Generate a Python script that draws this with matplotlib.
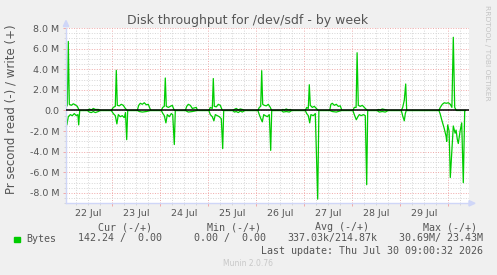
import matplotlib
matplotlib.use("Agg")
import matplotlib.pyplot as plt
from matplotlib.ticker import FixedLocator, FuncFormatter
from matplotlib.patches import Polygon, Rectangle

# figure size in pixels (dpi 100)
W, H = 497, 275

# time axis in hours since 22 Jul 00:00, values in MB/s
# write (+) samples
write_hours = [0.85, 1.5, 2.0, 2.5, 3.5, 4.5, 5.5, 6.5, 7.5,
               11.5, 12.5, 13.5, 14.5, 15.5, 17.0, 18.0,
               23.5, 24.5, 25.5, 26.0, 26.5, 27.5, 28.5, 29.5, 30.5, 31.5,
               36.5, 37.2, 38.0, 39.0, 40.0, 41.0, 42.0, 42.8, 43.3,
               48.5, 49.2, 50.0, 50.5, 51.0, 52.0, 53.0, 54.0, 54.8, 55.3,
               60.5, 61.2, 62.0, 63.0, 64.0, 65.0, 66.0, 66.6,
               72.3, 73.0, 74.0, 74.5, 75.0, 76.0, 77.0, 78.0, 78.8, 79.3,
               84.3, 85.0, 86.0, 87.0, 88.0, 89.0, 90.3,
               96.8, 97.5, 98.2, 98.7, 99.2, 100.0, 101.0, 102.0, 103.0, 103.7,
               108.5, 109.2, 110.0, 111.0, 112.0, 113.0, 113.8,
               120.5, 121.2, 122.0, 122.5, 123.0, 124.0, 125.0, 126.0, 127.0,
               132.7, 133.3, 134.0, 135.0, 136.0, 137.0, 138.0, 138.8,
               144.3, 145.0, 145.9, 146.4, 147.0, 148.0, 149.0, 150.0, 151.0, 151.7,
               156.3, 157.0, 158.0, 159.0, 160.0, 161.0, 162.0,
               168.5, 169.2, 170.0, 170.7, 171.2,
               187.3, 188.0, 189.0, 190.0, 191.0, 192.0, 193.0, 193.8, 194.5, 195.2, 196.0, 200.5]
write_mb = [0.3, 0.5, 6.7, 0.6, 0.5, 0.65, 0.55, 0.4, 0.0,
            0.0, 0.15, 0.05, 0.2, 0.1, 0.1, 0.0,
            0.0, 0.3, 0.4, 3.9, 0.5, 0.45, 0.6, 0.5, 0.2, 0.0,
            0.0, 0.5, 0.7, 0.6, 0.75, 0.55, 0.6, 0.2, 0.0,
            0.0, 0.3, 0.4, 3.15, 0.4, 0.3, 0.4, 0.5, 0.1, 0.0,
            0.0, 0.4, 0.6, 0.5, 0.2, 0.25, 0.3, 0.0,
            0.0, 0.3, 0.2, 3.1, 0.4, 0.35, 0.6, 0.5, 0.1, 0.0,
            0.0, 0.1, 0.2, 0.05, 0.15, 0.1, 0.0,
            0.0, 0.3, 0.4, 3.86, 0.6, 0.5, 0.45, 0.6, 0.3, 0.0,
            0.0, 0.1, 0.05, 0.15, 0.05, 0.1, 0.0,
            0.0, 0.3, 0.2, 2.5, 0.5, 0.3, 0.4, 0.2, 0.0,
            0.0, 0.6, 0.7, 0.5, 0.6, 0.4, 0.45, 0.0,
            0.0, 0.3, 0.3, 5.6, 0.5, 0.4, 0.5, 0.3, 0.1, 0.0,
            0.0, 0.1, 0.05, 0.15, 0.1, 0.05, 0.0,
            0.0, 0.3, 1.0, 2.57, 0.0,
            0.0, 0.3, 0.6, 0.75, 0.7, 0.75, 0.6, 0.3, 7.1, 0.3, 0.0, 0.0]

# read (-) samples, stored positive
read_hours = [0.85, 1.3, 2.0, 3.0, 4.0, 5.0, 6.0, 6.8, 7.2, 7.7,
              11.5, 12.5, 13.5, 14.5, 15.5, 17.0, 18.0,
              23.5, 24.5, 25.5, 26.3, 27.0, 28.0, 29.0, 30.0, 30.6, 31.2, 31.7,
              36.5, 37.5, 39.0, 41.0, 43.3,
              48.5, 49.3, 50.0, 50.8, 51.5, 52.5, 53.5, 54.2, 55.0, 55.5,
              60.5, 62.0, 64.0, 66.6,
              72.3, 73.0, 74.0, 74.8, 75.5, 76.5, 77.5, 78.5, 79.2, 79.7,
              84.3, 85.0, 86.0, 87.0, 88.0, 89.0, 90.3,
              96.8, 97.5, 98.3, 99.0, 99.7, 100.5, 101.5, 102.5, 103.2, 103.7,
              108.5, 109.5, 111.0, 112.5, 113.8,
              120.5, 121.2, 122.0, 122.7, 123.3, 124.5, 125.5, 126.7, 127.3,
              132.7, 134.0, 136.0, 138.8,
              144.3, 145.0, 146.0, 146.8, 147.5, 148.5, 149.5, 150.5, 151.2, 151.7,
              156.3, 157.5, 159.0, 160.5, 162.0,
              168.5, 169.3, 170.0, 170.5, 171.0,
              187.3, 187.9, 188.7, 189.9, 190.9, 191.2, 191.7, 192.4, 193.0, 194.5,
              195.4, 195.9, 196.5, 197.0, 197.9, 198.7, 199.5, 200.2, 200.5]
read_mb = [0.3, 1.4, 0.6, 0.4, 0.5, 0.3, 0.5, 0.4, 1.4, 0.0,
           0.0, 0.15, 0.2, 0.1, 0.2, 0.1, 0.0,
           0.0, 0.3, 0.5, 1.3, 0.4, 0.6, 0.5, 0.7, 0.2, 2.83, 0.0,
           0.0, 0.1, 0.15, 0.1, 0.0,
           0.0, 0.3, 0.5, 1.2, 0.4, 0.6, 0.3, 0.4, 3.3, 0.0,
           0.0, 0.15, 0.1, 0.0,
           0.0, 0.4, 0.6, 1.0, 0.4, 0.5, 0.6, 0.8, 3.7, 0.0,
           0.0, 0.15, 0.1, 0.2, 0.05, 0.15, 0.0,
           0.0, 0.4, 0.8, 1.1, 0.4, 0.5, 0.6, 0.4, 3.87, 0.0,
           0.0, 0.15, 0.1, 0.15, 0.0,
           0.0, 0.3, 0.5, 1.2, 0.4, 0.5, 0.3, 8.6, 0.0,
           0.0, 0.1, 0.15, 0.0,
           0.0, 0.4, 0.9, 0.6, 0.4, 0.5, 0.4, 0.5, 7.2, 0.0,
           0.0, 0.15, 0.1, 0.15, 0.0,
           0.0, 0.6, 1.0, 0.3, 0.0,
           0.0, 0.3, 0.9, 1.7, 2.5, 3.0, 1.4, 2.0, 6.5, 1.5,
           2.2, 1.9, 2.8, 3.2, 2.0, 1.2, 7.0, 0.0, 0.0]

day_labels = ["22 Jul", "23 Jul", "24 Jul", "25 Jul", "26 Jul", "27 Jul", "28 Jul", "29 Jul"]

legend_heads = ["Cur (-/+)", "Min (-/+)", "Avg (-/+)", "Max (-/+)"]
legend_vals = ["142.24 /  0.00", "0.00 /  0.00", "337.03k/214.87k", "30.69M/ 23.43M"]

TEXT = "#555555"
GREEN = "#00CC00"
AXIS = "#CFD6F8"


def fx(x):
    return x / W


def fy(y):
    return 1 - y / H


fig = plt.figure(figsize=(W / 100, H / 100), dpi=100)
fig.patch.set_facecolor("#F0F0F0")

# plot area: x 66..469, y 28..203.3 px
ax = fig.add_axes([fx(66), fy(203.3), (469 - 66) / W, (203.3 - 28) / H])
ax.set_facecolor("white")

ax.plot(write_hours, [v * 1e6 for v in write_mb], color=GREEN, lw=0.9, zorder=2)
ax.plot(read_hours, [-v * 1e6 for v in read_mb], color=GREEN, lw=0.9, zorder=2)
ax.axhline(0, color="black", lw=1.1, zorder=3)

ax.set_xlim(0.85, 202.35)
ax.set_ylim(-9e6, 8e6)

ax.xaxis.set_major_locator(FixedLocator([24 * d for d in range(1, 9)]))
ax.xaxis.set_minor_locator(FixedLocator([6 * k for k in range(1, 34) if k % 4]))
ax.yaxis.set_major_locator(FixedLocator([v * 1e6 for v in range(-8, 9, 2)]))
ax.yaxis.set_minor_locator(FixedLocator([v * 0.5e6 for v in range(-18, 17) if v % 4]))


def mfmt(v, pos):
    if abs(v) < 1:
        return "0.0"
    return "%.1f M" % (v / 1e6)


ax.yaxis.set_major_formatter(FuncFormatter(mfmt))
ax.set_xticklabels([])

ax.set_axisbelow(True)
ax.grid(which="major", color="#F0A8A8", lw=0.7, linestyle=(0, (1, 1.6)))
ax.grid(which="minor", color="#D6D6D6", lw=0.7, linestyle=(0, (1, 1.6)))

ax.tick_params(axis="y", which="major", length=2, width=0.7, color="#F0A8A8",
               labelsize=6.8, labelcolor=TEXT, pad=2.6)
ax.tick_params(axis="y", which="minor", length=1.5, width=0.7, color="#D6D6D6")
ax.tick_params(axis="x", which="major", length=2, width=0.7, color="#F0A8A8")
ax.tick_params(axis="x", which="minor", length=1.5, width=0.7, color="#D6D6D6")

for s in ["top", "right"]:
    ax.spines[s].set_visible(False)
for s in ["left", "bottom"]:
    ax.spines[s].set_color(AXIS)
    ax.spines[s].set_linewidth(1.0)

# day labels centred at noon
for i, lab in enumerate(day_labels):
    ax.text(12 + 24 * i, -0.073, lab, transform=ax.get_xaxis_transform(),
            ha="center", va="baseline", fontsize=6.8, color=TEXT)

# axis arrows
fig.patches.append(Polygon([(fx(63.3), fy(26.5)), (fx(68.7), fy(26.5)), (fx(66), fy(20.5))],
                           closed=True, color=AXIS, transform=fig.transFigure))
fig.patches.append(Polygon([(fx(469), fy(200.6)), (fx(469), fy(206)), (fx(475), fy(203.3))],
                           closed=True, color=AXIS, transform=fig.transFigure))

fig.text(fx(248), fy(24.3), "Disk throughput for /dev/sdf - by week", ha="center",
         va="baseline", fontsize=9, color=TEXT)
fig.text(fx(11), fy(109), "Pr second read (-) / write (+)", rotation=90,
         ha="center", va="center", fontsize=8.5, color=TEXT)
fig.text(fx(487.5), fy(53), "RRDTOOL / TOBI OETIKER", rotation=270,
         ha="center", va="center", fontsize=5.4, color="#C4C4C4")

# legend block
mono = "DejaVu Sans Mono"
for x, s in zip([98, 206.7, 315, 422.7], legend_heads):
    fig.text(fx(x), fy(230), s, family=mono, fontsize=7.2, color=TEXT, va="baseline")
fig.patches.append(Rectangle((fx(14), fy(242.2)), 5.5 / W, 5.5 / H, color=GREEN,
                             transform=fig.transFigure))
fig.text(fx(26.7), fy(241.5), "Bytes", family=mono, fontsize=7.2, color=TEXT, va="baseline")
for x, s in zip([77.7, 194.3, 287.7, 399], legend_vals):
    fig.text(fx(x), fy(241.5), s, family=mono, fontsize=7.2, color=TEXT, va="baseline")
fig.text(fx(482.7), fy(253.5), "Last update: Thu Jul 30 09:00:32 2026", family=mono,
         fontsize=7.2, color=TEXT, ha="right", va="baseline")
fig.text(fx(248), fy(266.5), "Munin 2.0.76", ha="center", va="baseline",
         fontsize=5.5, color="#C8C8C8")

fig.savefig("out.png", dpi=100, facecolor=fig.get_facecolor())
